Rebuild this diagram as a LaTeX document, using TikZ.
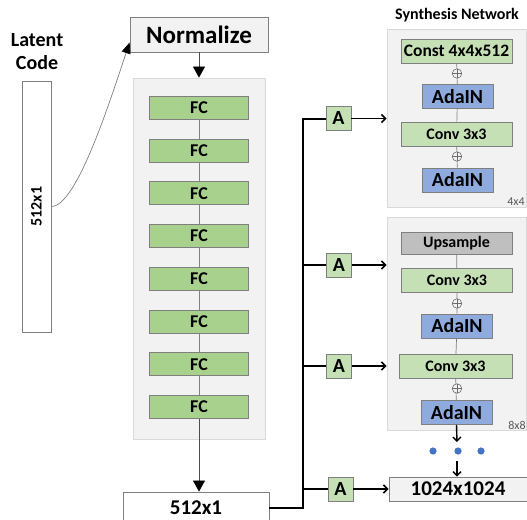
\documentclass[tikz,border=0pt]{standalone}
\usepackage{fontspec}
\setmainfont{Carlito}
\usepackage{tikz}
\usetikzlibrary{arrows.meta,positioning}

\definecolor{panelfill}{HTML}{F2F2F2}
\definecolor{panelline}{HTML}{D9D9D9}
\definecolor{edgegray}{HTML}{7F7F7F}
\definecolor{fcgreen}{HTML}{A9D18E}
\definecolor{lightgreen}{HTML}{C5E0B4}
\definecolor{adablue}{HTML}{8FAADC}
\definecolor{upgray}{HTML}{BFBFBF}
\definecolor{dotblue}{HTML}{4472C4}

\tikzset{
  box/.style={draw=edgegray, line width=0.9pt, inner sep=0pt},
  panel/.style={draw=panelline, fill=panelfill, line width=0.8pt, inner sep=0pt},
  fcbox/.style={box, fill=fcgreen, minimum width=99pt, minimum height=23pt, font=\bfseries\fontsize{18}{20}\selectfont},
  convbox/.style={box, fill=lightgreen, minimum width=111pt, minimum height=24pt, font=\bfseries\fontsize{16}{18}\selectfont},
  adabox/.style={box, fill=adablue, minimum width=71pt, minimum height=24pt, font=\bfseries\fontsize{20}{22}\selectfont},
  abox/.style={box, fill=lightgreen, minimum width=25pt, minimum height=24pt, font=\bfseries\fontsize{20}{22}\selectfont},
  plus/.style={circle, draw=gray!85!black, fill=panelfill, minimum size=9.5pt, inner sep=0pt, line width=0.6pt,
    path picture={\draw[gray!85!black, line width=0.6pt] (path picture bounding box.north) -- (path picture bounding box.south)
      (path picture bounding box.west) -- (path picture bounding box.east);}},
  link/.style={draw=gray, line width=0.7pt},
  bigarrow/.style={draw=gray!60!black, line width=0.8pt, -{Triangle[length=11pt,width=12pt,black]}},
  smallarrow/.style={line width=1.6pt, -{Straight Barb[length=4pt,width=8pt]}},
  reslabel/.style={text=gray!70!black, font=\fontsize{12}{14}\selectfont},
}

\begin{document}
\begin{tikzpicture}[x=1pt, y=-1pt]
\useasboundingbox (0,0) rectangle (527,519);
%%%%% Latent code %%%%%
\node[font=\bfseries\fontsize{20}{23}\selectfont, align=center] (title) at (37,52) {Latent\\Code};
\node[box, fill=white, minimum width=29pt, minimum height=251pt] (latent) at (36.5,206.5) {};
\node[rotate=90, font=\bfseries\fontsize{16}{18}\selectfont] (latenttext) at (latent.center) {512x1};
%%%%% Mapping network %%%%%
\node[box, fill=panelfill, minimum width=138pt, minimum height=35pt, font=\bfseries\fontsize{25}{27}\selectfont] (normalize) at (199,34.5) {Normalize};
\draw[edgegray, line width=0.7pt, -{Triangle[length=11pt,width=9pt,black]}] (latent.east) .. controls +(25,0) and +(-20,60) .. ([yshift=-8pt]normalize.west);
\node[panel, minimum width=132pt, minimum height=361pt] (mapping) at (199,258.5) {};
\draw[bigarrow] (normalize.south) -- (mapping.north);
\foreach \i in {1,...,8}{
  \node[fcbox] (fc\i) at (199,{108+42.7*(\i-1)}) {FC};
}
\foreach \i [count=\j from 2] in {1,...,7}{
  \draw[link] (fc\i) -- (fc\j);
}
\node[box, fill=white, minimum width=146pt, minimum height=32pt, font=\bfseries\fontsize{21}{23}\selectfont] (out) at (196,508) {512x1};
\draw[bigarrow, line width=0.7pt] (fc8.south) -- (fc8.south |- out.north);
%%%%% Synthesis network %%%%%
\node[font=\bfseries\fontsize{16}{18}\selectfont] (synth) at (457,15) {Synthesis Network};
\node[panel, minimum width=139pt, minimum height=178pt] (syn1) at (456.5,118) {};
\node[panel, minimum width=139pt, minimum height=213pt] (syn2) at (456.5,323.5) {};
% 4x4 block
\node[convbox, font=\bfseries\fontsize{17.5}{19}\selectfont] (const) at (456.5,51) {Const 4x4x512};
\node[adabox] (ada1) at (457.5,96.5) {AdaIN};
\node[convbox] (conv1) at (456.5,134) {Conv 3x3};
\node[adabox] (ada2) at (457.5,180) {AdaIN};
\draw[link] (const) -- (ada1) -- (conv1) -- (ada2);
\node[plus] (plus1) at (457,73.5) {};
\node[plus] (plus2) at (457,156.5) {};
\node[reslabel] (res1) at (516,201.5) {4x4};
% 8x8 block
\node[box, fill=upgray, minimum width=111pt, minimum height=22pt, font=\bfseries\fontsize{16}{18}\selectfont] (ups) at (456.5,243) {Upsample};
\node[convbox] (conv2) at (457,280.5) {Conv 3x3};
\node[adabox] (ada3) at (457,326) {AdaIN};
\node[convbox, minimum width=113pt] (conv3) at (455.5,366.5) {Conv 3x3};
\node[adabox] (ada4) at (456.5,412.5) {AdaIN};
\draw[link] (ups) -- (conv2) -- (ada3) -- (conv3) -- (ada4);
\node[plus] (plus3) at (457,303.5) {};
\node[plus] (plus4) at (457,388.5) {};
\node[reslabel] (res2) at (517,425.5) {8x8};
% output
\coordinate (dotsup) at (457,442);
\foreach \x/\n in {433/1,458/2,481/3}{
  \fill[dotblue] (\x,451) circle (3.6pt) coordinate (dot\n);
}
\coordinate (dotslow) at (457,461);
\node[box, fill=panelfill, minimum width=138pt, minimum height=24pt, font=\bfseries\fontsize{21}{23}\selectfont] (big) at (458,489) {1024x1024};
\draw[line width=1.4pt, -{Straight Barb[length=4pt,width=8pt]}] (ada4.south) -- (dotsup);
\draw[line width=1.4pt, -{Straight Barb[length=4pt,width=8pt]}] (dotslow) -- (big.north -| dotslow);
%%%%% Styles A %%%%%
\node[abox] (a1) at (338.5,118.5) {A};
\node[abox] (a2) at (339,265) {A};
\node[abox] (a3) at (339,366) {A};
\node[abox] (a4) at (340.5,489) {A};
\coordinate (bus) at (303,0);
\draw[line width=2pt] (out.east) -| (bus |- a1.west) -- (a1.west);
\foreach \i in {2,3,4}{
  \draw[line width=1.6pt] (bus |- a\i.west) -- (a\i.west);
}
\draw[smallarrow] (a1.east) -- (a1.east -| syn1.west);
\draw[smallarrow] (a2.east) -- (a2.east -| syn2.west);
\draw[smallarrow] (a3.east) -- (a3.east -| syn2.west);
\draw[smallarrow] (a4.east) -- (big.west);
\end{tikzpicture}
\end{document}
